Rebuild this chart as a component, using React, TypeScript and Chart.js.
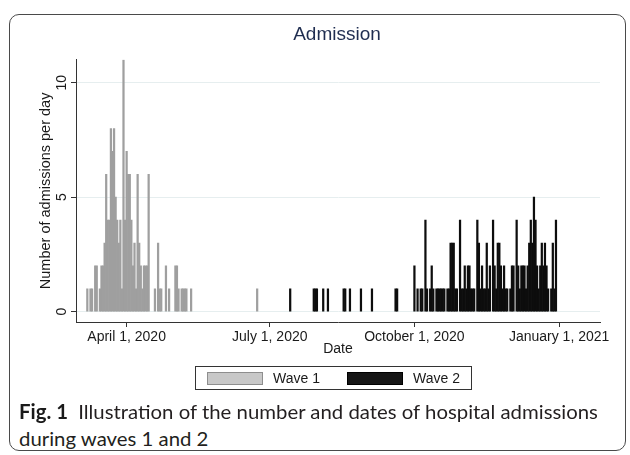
import React, { useEffect, useRef } from "react";
import { Chart, registerables } from "chart.js";
Chart.register(...registerables);

// Day numbers are days since January 1, 2020 (Jan 1 = 0)
const TICK_DAYS = [91, 182, 274, 366];
const TICK_LABELS = ["April 1, 2020", "July 1, 2020", "October 1, 2020", "January 1, 2021"];
const Y_TICKS = [0, 5, 10];

const WAVE1_DAYS = [66, 68, 69, 71, 72, 74, 75, 76, 77, 78, 79, 80, 81, 82, 83, 84, 85, 86, 87, 88, 89, 90, 91, 92, 93, 94, 95, 96, 97, 98, 99, 100, 101, 102, 103, 104, 105, 109, 111, 112, 113, 116, 118, 122, 123, 124, 126, 127, 128, 129, 132, 174];
const WAVE1_COUNTS = [1, 1, 1, 2, 2, 1, 2, 2, 3, 6, 4, 4, 8, 7, 8, 5, 4, 3, 4, 1, 11, 4, 7, 6, 6, 4, 2, 3, 1, 6, 3, 2, 1, 2, 2, 2, 6, 1, 3, 1, 1, 2, 1, 2, 2, 1, 1, 1, 1, 1, 1, 1];

const WAVE2_DAYS = [195, 210, 211, 212, 216, 219, 229, 230, 233, 240, 247, 262, 263,
  274, 276, 278, 279, 281, 282, 284, 285, 286, 288, 289, 290, 291, 292, 293, 295, 296, 297, 298, 299, 300, 301,
  303, 304, 305, 306, 307, 308, 309, 310, 311, 312, 314, 315, 316, 317, 318, 319, 320, 321, 322, 324, 325, 326,
  327, 328, 329, 330, 331, 332, 333, 335, 336, 337, 339, 340, 341, 342, 343, 344, 345, 346, 347, 348, 349, 350,
  351, 352, 353, 354, 355, 356, 357, 358, 359, 361, 362, 363, 364];
const WAVE2_COUNTS = [1, 1, 1, 1, 1, 1, 1, 1, 1, 1, 1, 1, 1,
  2, 1, 1, 1, 4, 1, 1, 2, 1, 1, 1, 1, 1, 1, 1, 1, 1, 3, 3, 3, 1, 1,
  4, 1, 1, 2, 1, 2, 2, 1, 1, 1, 4, 3, 1, 2, 1, 1, 3, 1, 2, 4, 2, 1,
  3, 3, 2, 1, 2, 1, 1, 1, 2, 2, 4, 2, 1, 2, 2, 2, 1, 2, 3, 4, 3, 5,
  4, 2, 1, 2, 3, 2, 3, 2, 1, 1, 3, 1, 4];

const FONT = "'Liberation Sans', Arial, Helvetica, sans-serif";
const CAPTION_FONT = "Lato, 'Open Sans', sans-serif";

export default function App() {
  const canvasRef = useRef<HTMLCanvasElement | null>(null);
  const capRef = useRef<HTMLDivElement | null>(null);
  const cap2Ref = useRef<HTMLDivElement | null>(null);

  useEffect(() => {
    document.body.style.margin = "0";
    const canvas = canvasRef.current;
    if (!canvas) return;
    const chart = new Chart(canvas, {
      type: "bar",
      data: {
        datasets: [
          {
            label: "Wave 1",
            data: WAVE1_DAYS.map((d, i) => ({ x: d, y: WAVE1_COUNTS[i] })),
            backgroundColor: "#9f9f9f",
            borderWidth: 0,
            grouped: false,
            barPercentage: 1,
            categoryPercentage: 1,
          } as any,
          {
            label: "Wave 2",
            data: WAVE2_DAYS.map((d, i) => ({ x: d, y: WAVE2_COUNTS[i] })),
            backgroundColor: "#0d0d0d",
            borderWidth: 0,
            grouped: false,
            barPercentage: 1,
            categoryPercentage: 1,
          } as any,
        ],
      },
      options: {
        animation: false,
        responsive: false,
        devicePixelRatio: 1,
        layout: { padding: { left: 37, top: 59.8, right: 30, bottom: 42.5 } },
        plugins: { legend: { display: false }, tooltip: { enabled: false }, title: { display: false } },
        scales: {
          x: {
            type: "linear",
            offset: false,
            min: 58.8,
            max: 392,
            afterFit: (s: any) => { s.height = 35.5; },
            afterBuildTicks: (s: any) => { s.ticks = TICK_DAYS.map((v) => ({ value: v })); },
            ticks: {
              autoSkip: false,
              maxRotation: 0,
              minRotation: 0,
              padding: 1.5,
              color: "#1a1a1a",
              font: { family: FONT, size: 14 },
              callback: (v: any) => {
                const i = TICK_DAYS.indexOf(Number(v));
                return i >= 0 ? TICK_LABELS[i] : "";
              },
            },
            grid: { offset: false, drawOnChartArea: false, tickLength: 5, tickColor: "#333", color: "#333" },
            border: { display: true, color: "#333", width: 1 },
            title: { display: true, text: "Date", color: "#1a1a1a", font: { family: FONT, size: 14 }, padding: { top: 0, bottom: 0 } },
          },
          y: {
            type: "linear",
            min: -0.45,
            max: 11,
            afterFit: (s: any) => { s.width = 39; },
            afterBuildTicks: (s: any) => { s.ticks = Y_TICKS.map((v) => ({ value: v })); },
            ticks: {
              minRotation: 90,
              maxRotation: 90,
              crossAlign: "center",
              padding: 1,
              color: "#1a1a1a",
              font: { family: FONT, size: 14 },
            },
            grid: { color: "#e6eeef", tickLength: 5, tickColor: "#333", lineWidth: 1 },
            border: { display: true, color: "#333", width: 1 },
            title: {
              display: true,
              text: "Number of admissions per day",
              color: "#1a1a1a",
              font: { family: FONT, size: 14.5 },
              padding: { top: 0, bottom: 0 },
            },
          },
        },
      } as any,
    });

    const c1 = capRef.current;
    const c2 = cap2Ref.current;
    if (c1 && c2) {
      const w = c1.scrollWidth;
      const k = 579 / w;
      c1.style.transform = `scaleX(${k})`;
      c2.style.transform = `scaleX(${k})`;
    }
    return () => chart.destroy();
  }, []);

  return (
    <div style={{ position: "fixed", left: 0, top: 0, width: 630, height: 455, background: "#fff", overflow: "hidden" }}>
      <div
        style={{
          position: "absolute",
          left: 9,
          top: 14,
          width: 617,
          height: 437,
          border: "1px solid #4a4a4a",
          borderRadius: 10,
          boxSizing: "border-box",
        }}
      />
      <canvas ref={canvasRef} width={630} height={400} style={{ position: "absolute", left: 0, top: 0, width: 630, height: 400 }} />
      <div
        style={{
          position: "absolute",
          left: 237,
          width: 200,
          top: 22,
          textAlign: "center",
          fontFamily: FONT,
          fontSize: 19,
          lineHeight: "24px",
          color: "#1f2d50",
        }}
      >
        Admission
      </div>
      <div
        style={{
          position: "absolute",
          left: 195,
          top: 366,
          width: 277,
          height: 24,
          border: "1px solid #333",
          boxSizing: "border-box",
          fontFamily: FONT,
          fontSize: 14,
          color: "#1a1a1a",
        }}
      >
        <div style={{ position: "absolute", left: 11, top: 5, width: 56, height: 13, background: "#c8c8c8", border: "1px solid #8e8e8e", boxSizing: "border-box" }} />
        <div style={{ position: "absolute", left: 77, top: 3, lineHeight: "16px" }}>Wave 1</div>
        <div style={{ position: "absolute", left: 151, top: 5, width: 56, height: 13, background: "#161616", border: "1px solid #000", boxSizing: "border-box" }} />
        <div style={{ position: "absolute", left: 217, top: 3, lineHeight: "16px" }}>Wave 2</div>
      </div>
      <div
        ref={capRef}
        style={{
          position: "absolute",
          left: 19,
          top: 398,
          whiteSpace: "nowrap",
          transformOrigin: "left top",
          fontFamily: CAPTION_FONT,
          fontSize: 20,
          lineHeight: "27px",
          color: "#231f20",
        }}
      >
        <span style={{ fontWeight: 700, color: "#1a1a1a" }}>Fig. 1</span>
        {"\u2002Illustration of the number and dates of hospital admissions"}
      </div>
      <div
        ref={cap2Ref}
        style={{
          position: "absolute",
          left: 19,
          top: 425,
          whiteSpace: "nowrap",
          transformOrigin: "left top",
          fontFamily: CAPTION_FONT,
          fontSize: 20,
          lineHeight: "27px",
          color: "#231f20",
        }}
      >
        during waves 1 and 2
      </div>
    </div>
  );
}
